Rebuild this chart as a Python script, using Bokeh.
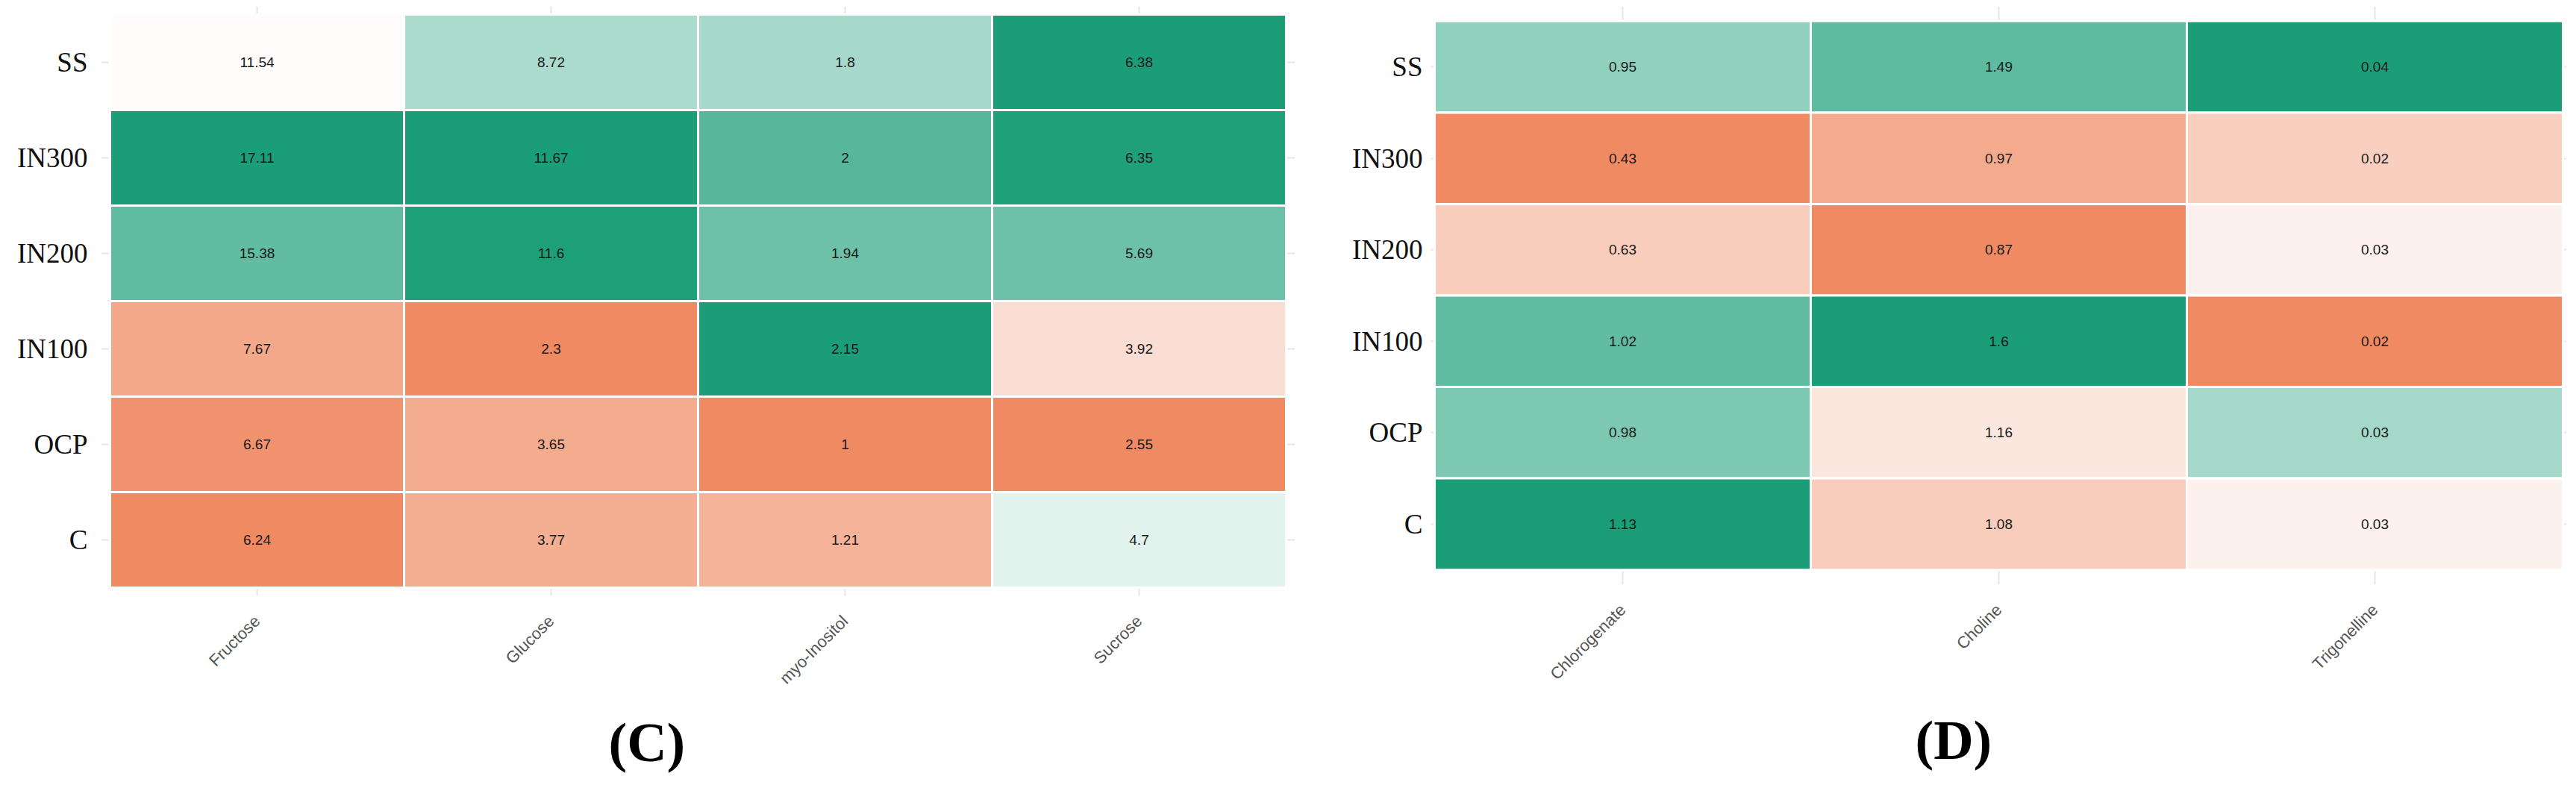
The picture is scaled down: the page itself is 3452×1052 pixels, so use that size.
import math
from bokeh.plotting import figure
from bokeh.models import ColumnDataSource, FactorRange, LinearColorMapper, Title
from bokeh.layouts import row
from bokeh.embed import file_html
from bokeh.resources import INLINE
from bokeh.core.properties import value

# ---------------- data ----------------
groups = ["SS", "IN300", "IN200", "IN100", "OCP", "C"]      # top to bottom
y_factors = ["C", "OCP", "IN100", "IN200", "IN300", "SS"]   # bottom to top

sugars = ["Fructose", "Glucose", "myo-Inositol", "Sucrose"]
fructose = [11.54, 17.11, 15.38, 7.67, 6.67, 6.24]
glucose = [8.72, 11.67, 11.6, 2.3, 3.65, 3.77]
myo_inositol = [1.8, 2.0, 1.94, 2.15, 1.0, 1.21]
sucrose = [6.38, 6.35, 5.69, 3.92, 2.55, 4.7]

others = ["Chlorogenate", "Choline", "Trigonelline"]
chlorogenate = [0.95, 0.43, 0.63, 1.02, 0.98, 1.13]
choline = [1.49, 0.97, 0.87, 1.6, 1.16, 1.08]
# shown rounded to two decimals in the cells
trigonelline = [0.040, 0.0232, 0.0266, 0.016, 0.0328, 0.0266]

panel_letters = ["C", "D"]

# ---------------- colours ----------------
LOW = (239, 138, 98)     # orange
MID = (255, 255, 255)
HIGH = (27, 158, 119)    # green


def make_palette(n=257):
    pal = []
    half = (n - 1) // 2
    for i in range(n):
        if i <= half:
            f = i / half
            a, b = LOW, MID
        else:
            f = (i - half) / half
            a, b = MID, HIGH
        c = tuple(round(a[k] + (b[k] - a[k]) * f) for k in range(3))
        pal.append("#%02x%02x%02x" % c)
    return pal


mapper = LinearColorMapper(palette=make_palette(), low=-1, high=1)


def fmt(v):
    return f"{round(v, 2):g}"


def build_source(metabs, cols):
    xs, ys, labels, ts = [], [], [], []
    for m, vals in zip(metabs, cols):
        lo, hi = min(vals), max(vals)
        mid = (lo + hi) / 2
        half = (hi - lo) / 2
        for g, v in zip(groups, vals):
            xs.append(m)
            ys.append(g)
            labels.append(fmt(v))
            ts.append((v - mid) / half)
    return ColumnDataSource(dict(x=xs, y=ys, label=labels, t=ts))


def make_panel(metabs, cols, fw, fh, xpad, ypad, mb_left, mb_right, mb_bottom,
               label_standoff, letter, cap_offset, cap_standoff):
    src = build_source(metabs, cols)
    # padding (per side, in category units) lets the grid lines peek out
    xr = FactorRange(factors=metabs, range_padding=xpad, range_padding_units="absolute")
    yr = FactorRange(factors=y_factors, range_padding=ypad, range_padding_units="absolute")
    p = figure(x_range=xr, y_range=yr, frame_width=fw, frame_height=fh,
               title=None, output_backend="svg", toolbar_location=None,
               min_border_left=mb_left, min_border_right=mb_right,
               min_border_top=8, min_border_bottom=mb_bottom)
    p.outline_line_color = None
    p.background_fill_color = "white"
    p.border_fill_color = "white"

    p.rect(x="x", y="y", width=1, height=1, source=src,
           fill_color={"field": "t", "transform": mapper},
           line_color="white", line_width=3)
    p.text(x="x", y="y", text="label", source=src,
           text_font=value("Liberation Sans"), text_font_size="19px",
           text_color="#1a1a1a", text_align="center", text_baseline="middle")

    for g in (p.xgrid, p.ygrid):
        g.grid_line_color = "#e6e6e6"
        g.grid_line_width = 2

    p.yaxis.axis_line_color = None
    p.yaxis.major_tick_line_color = None
    p.yaxis.minor_tick_line_color = None
    p.yaxis.major_tick_out = 0
    p.yaxis.major_label_text_font = "Liberation Serif"
    p.yaxis.major_label_text_font_size = "37px"
    p.yaxis.major_label_text_color = "#111111"
    p.yaxis.major_label_standoff = label_standoff

    p.xaxis.axis_line_color = None
    p.xaxis.major_tick_line_color = None
    p.xaxis.minor_tick_line_color = None
    p.xaxis.major_tick_out = 0
    p.xaxis.major_label_text_font = "Liberation Sans"
    p.xaxis.major_label_text_font_size = "22px"
    p.xaxis.major_label_text_color = "#555555"
    p.xaxis.major_label_orientation = math.pi / 4
    p.xaxis.major_label_standoff = 30

    cap = Title(text=f"({letter})", align="left", offset=cap_offset,
                standoff=cap_standoff,
                text_font="Liberation Serif", text_font_size="74px",
                text_font_style="bold", text_color="black")
    p.add_layout(cap, "below")
    return p


pC = make_panel(sugars, [fructose, glucose, myo_inositol, sucrose],
                fw=1600, fh=790, xpad=12 / 394, ypad=11 / 128,
                mb_left=135, mb_right=20, mb_bottom=230,
                label_standoff=18, letter=panel_letters[0],
                cap_offset=680, cap_standoff=37)

pD = make_panel(others, [chlorogenate, choline, trigonelline],
                fw=1522, fh=775, xpad=5 / 504, ypad=19.85 / 122.55,
                mb_left=162, mb_right=4, mb_bottom=245,
                label_standoff=11, letter=panel_letters[1],
                cap_offset=649, cap_standoff=43)

layout = row(pC, pD, spacing=0)
open("out.html", "w").write(file_html(layout, INLINE))
